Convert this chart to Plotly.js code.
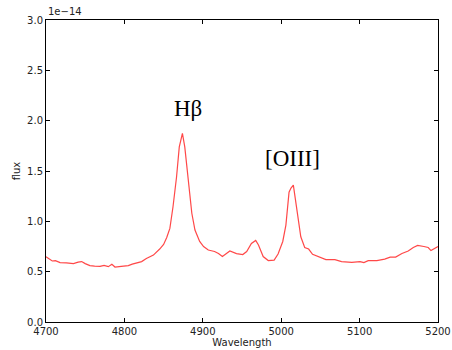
<!DOCTYPE html>
<html><head><meta charset="utf-8">
<script src="https://cdn.plot.ly/plotly-3.0.1.min.js"></script>
<style>html,body{margin:0;padding:0;background:#fff}#c{width:452px;height:350px}</style>
</head><body><div id="c"></div>
<script>
// Wavelength (Angstrom)
const wavelength = [4700,4704,4708,4712,4718,4726,4735,4741,4745.5,4750,4756,4762,4769,4774,4779.5,4784,4788,4796,4805,4810,4816,4822,4828,4837,4845,4850,4854,4858,4862,4866.5,4870,4874,4877,4881.5,4886,4890,4896,4901,4907,4915,4920,4925,4930,4934.5,4943,4951,4956,4962,4967.5,4971,4977,4983.5,4991,4996,5002,5006,5010,5012.5,5015.5,5019.5,5025,5030,5035,5040,5049.5,5057,5068.5,5077,5090,5100.5,5105.5,5111,5122,5132,5139,5146,5154,5162,5168.5,5174,5182,5187.5,5191,5200];
// Flux in units of 1e-14
const flux = [0.648,0.625,0.606,0.61,0.59,0.588,0.58,0.595,0.60,0.58,0.56,0.555,0.553,0.563,0.55,0.573,0.546,0.553,0.56,0.575,0.59,0.60,0.63,0.665,0.725,0.77,0.84,0.93,1.145,1.44,1.74,1.874,1.74,1.38,1.08,0.914,0.80,0.75,0.715,0.70,0.68,0.65,0.68,0.705,0.68,0.67,0.70,0.78,0.81,0.765,0.65,0.61,0.615,0.675,0.80,0.963,1.29,1.33,1.36,1.16,0.847,0.74,0.725,0.672,0.645,0.62,0.62,0.60,0.593,0.60,0.59,0.61,0.61,0.625,0.645,0.645,0.68,0.705,0.74,0.76,0.75,0.74,0.71,0.75];
const lineLabels = ["Hβ","[OIII]"];
const labelX = [4881, 5014];
const labelY = [2.12, 1.62];

const trace = {x: wavelength, y: flux, type: 'scatter', mode: 'lines',
  line: {color: 'rgba(255,40,40,0.85)', width: 1.2}, hoverinfo: 'skip'};

const ann = lineLabels.map((t,i)=>({x: labelX[i], y: labelY[i], xref:'x', yref:'y', text: t, showarrow:false,
  font:{family:'Liberation Serif, serif', size:23, color:'#000'}}));
ann.push({xref:'paper', yref:'paper', x:0, y:1, xanchor:'left', yanchor:'bottom', yshift:1, text:'1e−14', showarrow:false,
  font:{family:'DejaVu Sans', size:10, color:'#222'}});

const axisCommon = {showline:true, linecolor:'#000', linewidth:1, mirror:'ticks', ticks:'inside', ticklen:4,
  tickcolor:'#000', tickwidth:1, showgrid:false, zeroline:false,
  tickfont:{family:'DejaVu Sans', size:10, color:'#222'}};

const layout = {
  width:452, height:350, margin:{l:46, r:14, t:20, b:28},
  paper_bgcolor:'#fff', plot_bgcolor:'#fff', showlegend:false,
  xaxis: Object.assign({}, axisCommon, {range:[4700,5200], tickvals:[4700,4800,4900,5000,5100,5200],
    title:{text:'Wavelength', font:{family:'DejaVu Sans', size:10, color:'#222'}, standoff:2}}),
  yaxis: Object.assign({}, axisCommon, {range:[0,3], dtick:0.5, tick0:0, tickformat:'.1f',
    title:{text:'flux', font:{family:'DejaVu Sans', size:10, color:'#222'}, standoff:4}}),
  annotations: ann
};
Plotly.newPlot('c', [trace], layout, {staticPlot:true, displayModeBar:false});
</script></body></html>
